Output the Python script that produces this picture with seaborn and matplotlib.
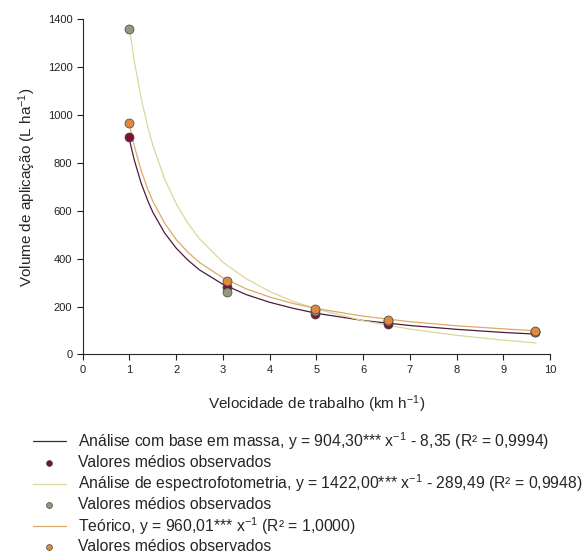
import numpy as np
import pandas as pd
import matplotlib
matplotlib.use("Agg")
import matplotlib.pyplot as plt
import seaborn as sns

# observed mean values (x = working speed, km/h)
speed_obs = [1.0, 3.09, 4.97, 6.54, 9.67]
mass_obs = [907, 283, 170, 126, 93]
spectro_obs = [1360, 263, 183, 138, 94]
theory_obs = [968, 307, 190, 146, 98]

# fitted curves
speed_fit = [1.0, 1.1, 1.25, 1.4, 1.5, 1.75, 2.0, 2.25, 2.5, 3.0, 3.5, 4.0, 4.5,
             5.0, 6.0, 7.0, 8.0, 9.0, 9.7]
mass_fit = [896, 814, 715, 638, 594, 508, 444, 394, 353, 293, 250, 218, 193,
            172, 142, 121, 105, 92, 85]
spectro_fit = [1362, 1228, 1070, 944, 874, 734, 630, 548, 483, 385, 316, 263, 222,
               190, 141, 106, 80, 60, 48]
theory_fit = [960, 873, 768, 686, 640, 549, 480, 427, 384, 320, 274, 240, 213,
              192, 160, 137, 120, 107, 99]

labels = [
    "Análise com base em massa, y = 904,30*** x$^{-1}$ - 8,35 (R² = 0,9994)",
    "Análise de espectrofotometria, y = 1422,00*** x$^{-1}$ - 289,49 (R² = 0,9948)",
    "Teórico, y = 960,01*** x$^{-1}$ (R² = 1,0000)",
]
obs_label = "Valores médios observados"

line_colors = ["#4b1c3e", "#dcd79a", "#dcaa68"]
point_colors = ["#7d1234", "#8e9c7c", "#e0893e"]

sns.set_style("ticks")
plt.rcParams["font.family"] = ["Liberation Sans", "DejaVu Sans"]
plt.rcParams["mathtext.fontset"] = "custom"
plt.rcParams["mathtext.rm"] = "Liberation Sans"
plt.rcParams["mathtext.it"] = "Liberation Sans:italic"
plt.rcParams["mathtext.default"] = "regular"

fig = plt.figure(figsize=(5.87, 5.53), dpi=100)
ax = fig.add_axes([0.141, 0.359, 0.796, 0.606])

fits = [mass_fit, spectro_fit, theory_fit]
obs = [mass_obs, spectro_obs, theory_obs]
for i in range(3):
    sns.lineplot(x=speed_fit, y=fits[i], color=line_colors[i], lw=0.9,
                 ax=ax, label=labels[i], zorder=2)
for i in range(3):
    sns.scatterplot(x=speed_obs, y=obs[i], color=point_colors[i], s=42,
                    edgecolor="#444444", linewidth=0.5, ax=ax,
                    label=obs_label, zorder=3 + i)

ax.set_xlim(0, 10)
ax.set_ylim(0, 1400)
ax.set_xticks(range(0, 11))
ax.set_yticks(range(0, 1401, 200))
ax.tick_params(labelsize=8, length=4, width=0.8, colors="#222222")
for s in ["left", "bottom"]:
    ax.spines[s].set_linewidth(0.8)
sns.despine(ax=ax)

ax.set_xlabel("Velocidade de trabalho (km h$^{-1}$)", fontsize=11, labelpad=13)
ax.set_ylabel("Volume de aplicação (L ha$^{-1}$)", fontsize=11, labelpad=7)

handles, labs = ax.get_legend_handles_labels()
order = [0, 3, 1, 4, 2, 5]
ax.legend([handles[k] for k in order], [labs[k] for k in order],
          loc="upper left", bbox_to_anchor=(0.056, 0.222),
          bbox_transform=fig.transFigure, frameon=False, fontsize=11.3,
          handlelength=2.1, handletextpad=0.8, labelspacing=0.18,
          markerscale=0.65, borderpad=0, borderaxespad=0)

plt.savefig("out.png", dpi=100)
